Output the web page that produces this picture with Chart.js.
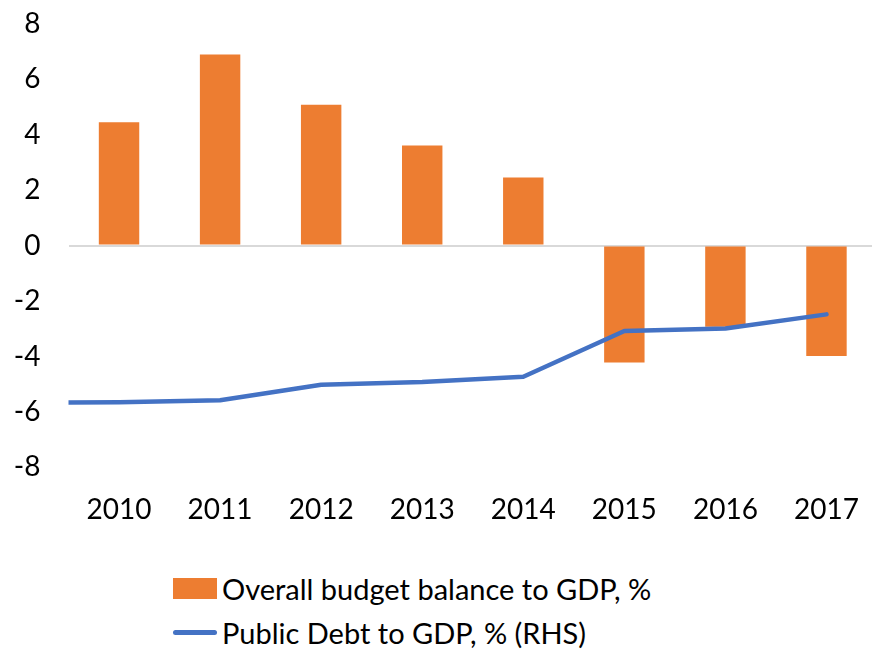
<!DOCTYPE html>
<html>
<head>
<meta charset="utf-8">
<script src="https://cdn.jsdelivr.net/npm/chart.js@4/dist/chart.umd.min.js"></script>
<style>
  html, body { margin: 0; padding: 0; background: #fff; overflow: hidden; }
  #wrap { position: absolute; left: 0; top: -21px; width: 877px; height: 566px; }
  #legend { position: absolute; left: 173px; top: 566px; font-family: Lato, sans-serif; font-size: 29px; color: #000; }
  .row { display: flex; align-items: center; height: 44px; white-space: nowrap; }
  .swatch { width: 44px; height: 21px; margin-right: 5px; }
  .lineSwatch { width: 44px; height: 5px; border-radius: 2.5px; margin-right: 5px; }
</style>
</head>
<body>
<div id="wrap"><canvas id="c"></canvas></div>
<div id="legend"></div>
<script>
// Fiscal indicators by year
const years = ['2010', '2011', '2012', '2013', '2014', '2015', '2016', '2017'];
const budgetBalance = [4.45, 6.89, 5.08, 3.61, 2.46, -4.22, -2.93, -3.98];
// Debt line: category positions (index along the year axis; -0.5 is the left edge) and values
const debtPositions = [-0.5, 0, 1, 2, 3, 4, 5, 6, 7];
const debtValues = [-5.66, -5.65, -5.58, -5.02, -4.92, -4.73, -3.08, -2.99, -2.48];
const yTicks = [8, 6, 4, 2, 0, -2, -4, -6, -8];

const barLabel = 'Overall budget balance to GDP, %';
const lineLabel = 'Public Debt to GDP, % (RHS)';
const orange = '#ED7D31';
const blue = '#4472C4';
const font = { family: 'Lato, sans-serif', size: 28 };

new Chart(document.getElementById('c'), {
  data: {
    labels: years,
    datasets: [
      {
        type: 'line',
        label: lineLabel,
        data: debtPositions.map((p, i) => ({ x: p, y: debtValues[i] })),
        xAxisID: 'x2',
        borderColor: blue,
        borderWidth: 4.5,
        borderCapStyle: 'round',
        borderJoinStyle: 'round',
        pointRadius: 0,
        tension: 0,
        clip: { left: 0, right: false, top: false, bottom: false },
        order: 0
      },
      {
        type: 'bar',
        label: barLabel,
        data: budgetBalance,
        backgroundColor: orange,
        grouped: false,
        barPercentage: 0.4,
        categoryPercentage: 1,
        order: 1
      }
    ]
  },
  options: {
    responsive: true,
    maintainAspectRatio: false,
    animation: false,
    layout: { padding: { top: 6, right: 0, left: 0, bottom: 0 } },
    plugins: { legend: { display: false }, tooltip: { enabled: false } },
    scales: {
      x: {
        type: 'category',
        offset: true,
        grid: { display: false },
        border: { display: false },
        ticks: { font: font, color: '#000', padding: 18, maxRotation: 0 }
      },
      x2: {
        type: 'linear',
        display: false,
        min: -0.5,
        max: 7.5
      },
      y: {
        min: -8,
        max: 8,
        afterBuildTicks: s => { s.ticks = yTicks.map(v => ({ value: v })); },
        afterFit: s => { s.width = 68.5; },
        grid: {
          drawTicks: false,
          lineWidth: 2,
          color: ctx => (ctx.tick && ctx.tick.value === 0 ? '#D9D9D9' : 'rgba(0,0,0,0)')
        },
        border: { display: false },
        ticks: { font: font, color: '#000', padding: 28 }
      }
    }
  }
});

// Legend below the chart, one series per row
const legend = document.getElementById('legend');
legend.innerHTML =
  '<div class="row"><span class="swatch" style="background:' + orange + '"></span>' + barLabel + '</div>' +
  '<div class="row"><span class="lineSwatch" style="background:' + blue + '"></span>' + lineLabel + '</div>';
</script>
</body>
</html>
